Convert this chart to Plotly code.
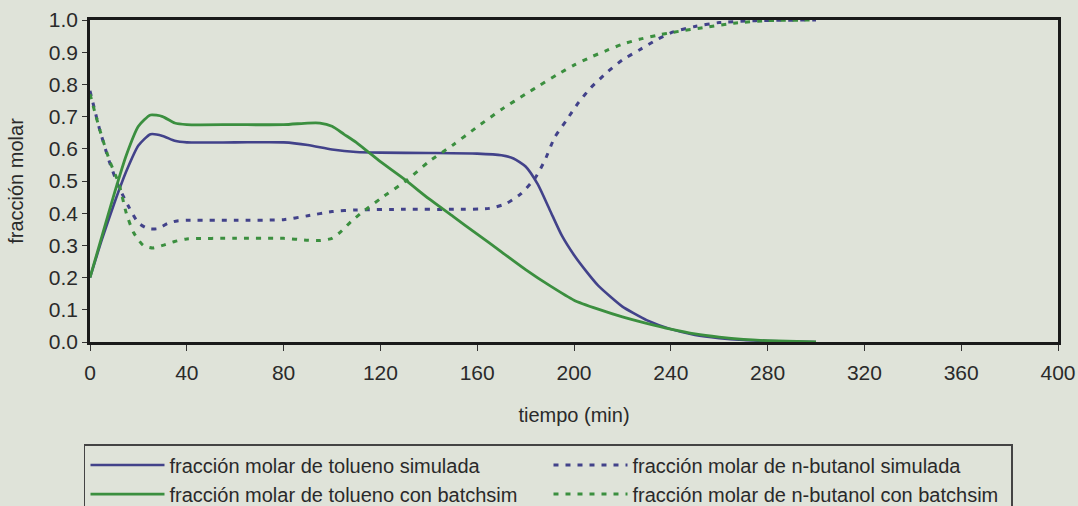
import plotly.graph_objects as go

# ---- data ----
t_tol_sim = [0, 5, 10, 15, 20, 25, 30, 35, 40, 60, 80, 90, 100, 110, 120, 140, 160, 170, 175, 180, 185, 190, 195, 200, 205, 210, 220, 225, 230, 240, 250, 260, 270, 280, 300]
v_tol_sim = [0.20, 0.32, 0.43, 0.53, 0.61, 0.645, 0.64, 0.625, 0.62, 0.62, 0.62, 0.612, 0.598, 0.59, 0.588, 0.587, 0.585, 0.58, 0.57, 0.545, 0.49, 0.41, 0.33, 0.27, 0.22, 0.175, 0.11, 0.088, 0.068, 0.04, 0.022, 0.012, 0.006, 0.003, 0.0]

t_tol_bs = [0, 5, 10, 15, 20, 25, 30, 35, 40, 60, 80, 90, 95, 100, 105, 110, 115, 120, 130, 140, 150, 160, 170, 180, 190, 200, 210, 220, 230, 240, 250, 260, 270, 280, 300]
v_tol_bs = [0.20, 0.33, 0.46, 0.58, 0.67, 0.705, 0.70, 0.68, 0.675, 0.675, 0.675, 0.68, 0.68, 0.67, 0.645, 0.62, 0.59, 0.56, 0.505, 0.445, 0.39, 0.335, 0.28, 0.225, 0.175, 0.13, 0.102, 0.078, 0.058, 0.04, 0.025, 0.015, 0.008, 0.004, 0.0]

t_but_sim = [0, 4, 8, 12, 16, 20, 24, 28, 32, 36, 40, 60, 80, 90, 100, 110, 130, 150, 165, 172, 178, 184, 188, 192, 197, 202, 207, 214, 220, 227, 234, 241, 250, 260, 275, 300]
v_but_sim = [0.78, 0.66, 0.56, 0.48, 0.42, 0.37, 0.352, 0.352, 0.368, 0.376, 0.378, 0.378, 0.38, 0.392, 0.405, 0.41, 0.412, 0.412, 0.415, 0.43, 0.46, 0.51, 0.565, 0.635, 0.69, 0.745, 0.79, 0.84, 0.876, 0.907, 0.938, 0.963, 0.98, 0.992, 0.998, 1.0]

t_but_bs = [0, 4, 8, 12, 15, 18, 22, 26, 30, 35, 40, 60, 80, 90, 95, 100, 104, 108, 112, 120, 131, 140, 150, 160, 170, 180, 186, 193, 200, 207, 214, 220, 227, 234, 241, 255, 266, 280, 300]
v_but_bs = [0.77, 0.66, 0.565, 0.49, 0.40, 0.34, 0.30, 0.292, 0.30, 0.312, 0.32, 0.322, 0.322, 0.316, 0.315, 0.322, 0.345, 0.375, 0.40, 0.445, 0.503, 0.56, 0.612, 0.668, 0.722, 0.77, 0.798, 0.83, 0.86, 0.885, 0.907, 0.925, 0.94, 0.952, 0.962, 0.978, 0.99, 0.998, 1.0]

names = [
    "fracción molar de tolueno simulada",
    "fracción molar de n-butanol simulada",
    "fracción molar de tolueno con batchsim",
    "fracción molar de n-butanol con batchsim",
]
x_ticks = [0, 40, 80, 120, 160, 200, 240, 280, 320, 360, 400]
y_ticks = [0.0, 0.1, 0.2, 0.3, 0.4, 0.5, 0.6, 0.7, 0.8, 0.9, 1.0]

BLUE = "#42428a"
GREEN = "#3b8f3f"
BG = "#dfe3d9"
FONT = "Liberation Sans, Arial, sans-serif"

fig = go.Figure()
fig.add_trace(go.Scatter(x=t_tol_sim, y=v_tol_sim, name=names[0], mode="lines",
                         line=dict(color=BLUE, width=2.6, shape="spline", smoothing=0.6)))
fig.add_trace(go.Scatter(x=t_but_sim, y=v_but_sim, name=names[1], mode="lines",
                         line=dict(color=BLUE, width=3, dash="5px,7px", shape="spline", smoothing=0.6)))
fig.add_trace(go.Scatter(x=t_tol_bs, y=v_tol_bs, name=names[2], mode="lines",
                         line=dict(color=GREEN, width=2.8, shape="spline", smoothing=0.6)))
fig.add_trace(go.Scatter(x=t_but_bs, y=v_but_bs, name=names[3], mode="lines",
                         line=dict(color=GREEN, width=3, dash="5px,7px", shape="spline", smoothing=0.6)))

fig.update_layout(
    width=1078, height=506,
    margin=dict(l=90, r=20, t=20, b=164, autoexpand=False),
    paper_bgcolor=BG, plot_bgcolor=BG,
    font=dict(family=FONT, color="#2a2a2a", size=20),
    showlegend=True,
    legend=dict(
        orientation="h", x=-0.0062, y=-0.317, xanchor="left", yanchor="top",
        bgcolor="rgba(0,0,0,0)", bordercolor="#444", borderwidth=1.5,
        font=dict(size=20, family=FONT, color="#2a2a2a"),
        itemwidth=74, entrywidth=374, tracegroupgap=0,
    ),
)
fig.update_xaxes(
    range=[0, 400], tickvals=x_ticks, ticktext=[str(v) for v in x_ticks],
    showgrid=False, zeroline=False,
    showline=True, linecolor="#1a1a1a", linewidth=2.5, mirror=True,
    ticks="outside", ticklen=6, tickwidth=1.2, tickcolor="#333",
    tickfont=dict(size=21), ticklabelstandoff=4,
    title=dict(text="tiempo (min)", font=dict(size=20), standoff=26),
)
fig.update_yaxes(
    range=[0, 1], tickvals=y_ticks, ticktext=[f"{v:.1f}" for v in y_ticks],
    showgrid=False, zeroline=False,
    showline=True, linecolor="#1a1a1a", linewidth=2.5, mirror=True,
    ticks="outside", ticklen=5, tickwidth=1.2, tickcolor="#333",
    tickfont=dict(size=21),
    title=dict(text="fracción molar", font=dict(size=20), standoff=20),
)

fig.write_html("out.html")
